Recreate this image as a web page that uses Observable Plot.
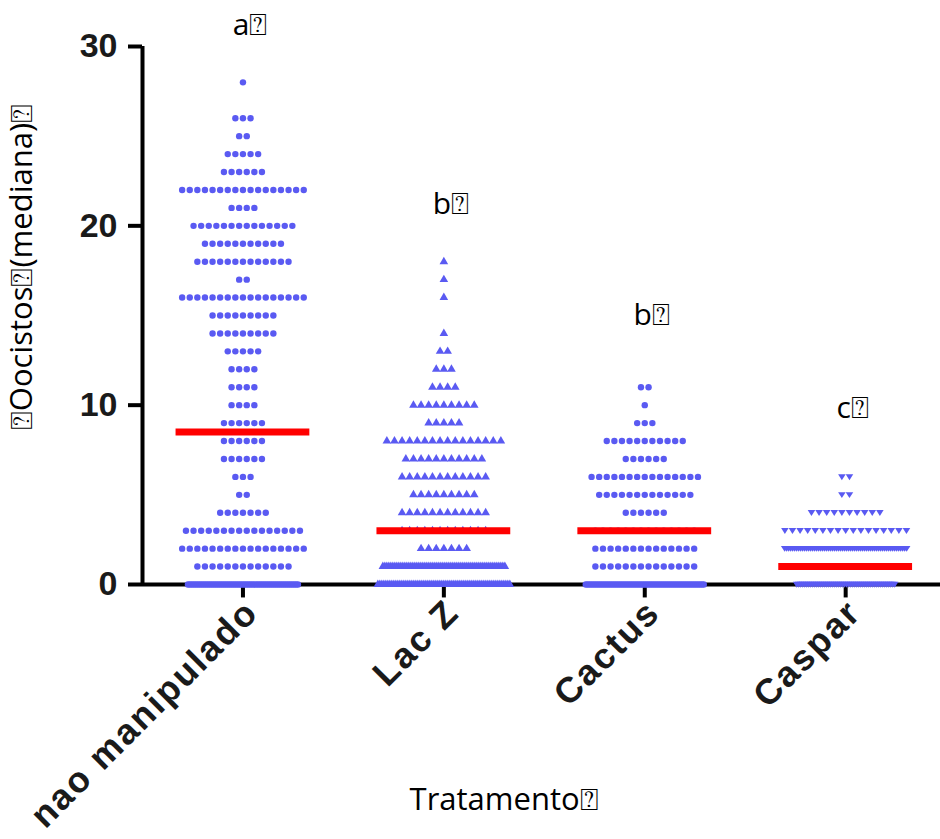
<!DOCTYPE html>
<html>
<head>
<meta charset="utf-8">
<script src="https://cdn.jsdelivr.net/npm/d3@7"></script>
<script src="https://cdn.jsdelivr.net/npm/@observablehq/plot@0.6"></script>
<style>
  html, body { margin: 0; padding: 0; background: #fff; }
</style>
</head>
<body>
<div id="chart"></div>
<script>
// ---- data ----
const categories = ["nao manipulado", "Lac Z", "Cactus", "Caspar"];
const levels = [0,1,2,3,4,5,6,7,8,9,10,11,12,13,14,15,16,17,18,19,20,21,22,23,24,25,26,27,28];
// number of points at each level (index = level)
const countsNao   = [56,13,17,16,7,2,3,6,6,6,4,4,4,5,9,9,17,2,13,11,14,4,17,6,5,2,3,0,1];
const countsLacZ  = [67,62,7,12,12,9,12,11,16,5,9,4,3,2,1,0,1,1,1,0,0,0,0,0,0,0,0,0,0];
const countsCactus= [60,14,14,14,6,13,15,6,11,3,1,2,0,0,0,0,0,0,0,0,0,0,0,0,0,0,0,0,0];
const countsCaspar= [50,17,62,17,10,2,2,0,0,0,0,0,0,0,0,0,0,0,0,0,0,0,0,0,0,0,0,0,0];
const medians = [8.5, 3, 3, 1];
const letters = ["a\u2370", "b\u2370", "b\u2370", "c\u2370"];
const letterY = [31.2, 21.2, 15, 9.8];
const yTicks = [0, 10, 20, 30];
const yLabel = "\u2370Oocistos\u2370(mediana)\u2370";
const xLabel = "Tratamento\u2370";

// ---- layout ----
const W = 940, H = 839;
const mL = 142, mR = 0, mT = 46, mB = 255;
const xDomain = [-0.5, 3.472];
const pxPerUnit = (W - mL - mR) / (xDomain[1] - xDomain[0]);
const maxRow = 17, step = 7.6, denseStep = 2;

const allCounts = [countsNao, countsLacZ, countsCactus, countsCaspar];
const points = [];
allCounts.forEach((counts, g) => {
  levels.forEach((v, k) => {
    const n = counts[k];
    const s = n > maxRow ? denseStep : step;
    for (let j = 0; j < n; j++) {
      points.push({g, v, x: g + ((j - (n - 1) / 2) * s) / pxPerUnit});
    }
  });
});
const medRows = medians.map((m, g) => ({g, m}));
const letterRows = letters.map((t, g) => ({g, t, y: letterY[g]}));

const triDown = {
  draw(ctx, size) {
    const s = Math.sqrt(size) * 0.95;
    ctx.moveTo(0, s * 0.6);
    ctx.lineTo(s * 0.7, -s * 0.5);
    ctx.lineTo(-s * 0.7, -s * 0.5);
    ctx.closePath();
  }
};
const symbols = ["circle", "triangle", "circle", triDown];
const blue = "#5a5af2";

const plot = Plot.plot({
  width: W, height: H,
  marginLeft: mL, marginRight: mR, marginTop: mT, marginBottom: mB,
  x: {domain: xDomain},
  y: {domain: [0, 30]},
  marks: [
    Plot.axisY({ticks: yTicks, tickSize: 0, tickPadding: 25, fontSize: 34, fontWeight: "bold",
      fontFamily: "Liberation Sans, Arial, sans-serif", fill: "#1a1a1a", label: null}),
    Plot.axisX({ticks: [0, 1, 2, 3], tickFormat: i => categories[i], tickSize: 0, tickPadding: 22, dx: 9,
      tickRotate: -45, textAnchor: "end", lineAnchor: "middle", fontSize: 36, fontWeight: "bold",
      fontFamily: "Liberation Sans, Arial, sans-serif", fill: "#1a1a1a", label: null}),
    Plot.ruleX([-0.5], {y1: 0, y2: 30, strokeWidth: 4, stroke: "#000"}),
    Plot.ruleY(yTicks, {y: d => d, x1: -0.5, x2: -0.5 - 14 / pxPerUnit, strokeWidth: 4, stroke: "#000"}),
    Plot.ruleY([0], {x1: xDomain[0], x2: xDomain[1], strokeWidth: 4, stroke: "#000"}),
    Plot.ruleX([0, 1, 2, 3], {x: d => d, y1: 0, y2: -0.75, strokeWidth: 4, stroke: "#000"}),
    ...symbols.map((sym, g) =>
      Plot.dot(points.filter(p => p.g === g), {x: "x", y: "v", r: 3.2, symbol: sym, fill: blue, stroke: "none"})
    ),
    Plot.ruleY(medRows, {y: "m", x1: d => d.g - 0.333, x2: d => d.g + 0.333, stroke: "#ff0000", strokeWidth: 7}),
    Plot.text(letterRows, {x: "g", y: "y", text: "t", dx: 7, fontSize: 30,
      fontFamily: "Open Sans, sans-serif", fill: "#000"}),
    Plot.text([yLabel], {x: -0.5, y: 17.7, dx: -120, text: d => d, rotate: -90, fontSize: 31,
      fontFamily: "Open Sans, sans-serif", fill: "#000"}),
    Plot.text([xLabel], {x: 1.3, y: -12, text: d => d, fontSize: 31,
      fontFamily: "Open Sans, sans-serif", fill: "#000"})
  ]
});
d3.select(plot).selectAll('g[aria-label="x-axis tick label"] text').style("letter-spacing", "2px");
document.getElementById("chart").appendChild(plot);
</script>
</body>
</html>
